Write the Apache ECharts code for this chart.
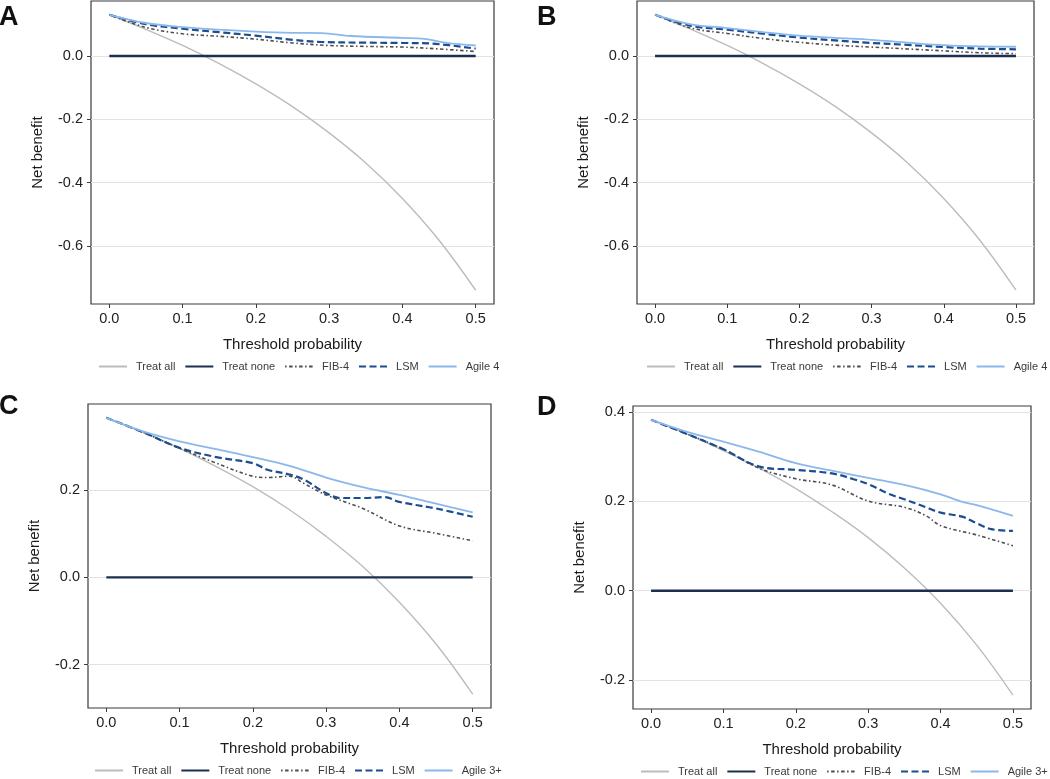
<!DOCTYPE html>
<html>
<head>
<meta charset="utf-8">
<script src="https://cdn.jsdelivr.net/npm/echarts@6/dist/echarts.min.js"></script>
<style>
html,body{margin:0;padding:0;background:#fff;}
#chart{width:1050px;height:779px;}
</style>
</head>
<body>
<div id="chart"></div>
<script>
// ---------- data ----------
const panelLetters = ['A', 'B', 'C', 'D'];
const legendNamesAB = ['Treat all', 'Treat none', 'FIB-4', 'LSM', 'Agile 4'];
const legendNamesCD = ['Treat all', 'Treat none', 'FIB-4', 'LSM', 'Agile 3+'];
const xTicks = [0, 0.1, 0.2, 0.3, 0.4, 0.5];
const yTicksAB = [-0.6, -0.4, -0.2, 0.0];
const yTicksC = [-0.2, 0.0, 0.2];
const yTicksD = [-0.2, 0.0, 0.2, 0.4];

const thr = [0, 0.05, 0.1, 0.15, 0.2, 0.25, 0.3, 0.35, 0.4, 0.45, 0.5];
const noneX = [0, 0.5];
const noneY = [0, 0];

// Panel A
const treatAllA = [0.130, 0.084, 0.033, -0.024, -0.088, -0.160, -0.243, -0.338, -0.450, -0.582, -0.740];
const fibAx = [0, 0.05, 0.1, 0.15, 0.2, 0.25, 0.3, 0.35, 0.4, 0.45, 0.5];
const fibA  = [0.130, 0.090, 0.070, 0.062, 0.053, 0.041, 0.033, 0.030, 0.028, 0.022, 0.014];
const lsmAx = [0, 0.05, 0.1, 0.15, 0.2, 0.25, 0.29, 0.35, 0.4, 0.44, 0.5];
const lsmA  = [0.130, 0.100, 0.086, 0.075, 0.064, 0.051, 0.044, 0.042, 0.041, 0.039, 0.023];
const agileAx = [0, 0.05, 0.1, 0.15, 0.2, 0.25, 0.29, 0.33, 0.4, 0.43, 0.46, 0.5];
const agileA  = [0.130, 0.104, 0.091, 0.083, 0.077, 0.073, 0.072, 0.063, 0.057, 0.054, 0.041, 0.033];

// Panel B
const treatAllB = [0.130, 0.084, 0.033, -0.024, -0.088, -0.160, -0.243, -0.338, -0.450, -0.582, -0.740];
const fibB   = [0.130, 0.088, 0.071, 0.055, 0.043, 0.034, 0.028, 0.022, 0.016, 0.010, 0.007];
const lsmB   = [0.130, 0.095, 0.083, 0.070, 0.058, 0.049, 0.041, 0.035, 0.028, 0.023, 0.021];
const agileB = [0.130, 0.100, 0.088, 0.075, 0.064, 0.057, 0.051, 0.042, 0.034, 0.030, 0.029];

// Panel C
const treatAllC = [0.366, 0.333, 0.296, 0.254, 0.208, 0.155, 0.094, 0.025, -0.057, -0.153, -0.268];
const fibCx = [0, 0.05, 0.1, 0.15, 0.2, 0.22, 0.25, 0.27, 0.3, 0.35, 0.4, 0.45, 0.5];
const fibC  = [0.366, 0.333, 0.296, 0.262, 0.232, 0.229, 0.232, 0.215, 0.189, 0.158, 0.118, 0.101, 0.084];
const lsmCx = [0, 0.05, 0.1, 0.15, 0.2, 0.22, 0.25, 0.27, 0.3, 0.32, 0.35, 0.38, 0.4, 0.45, 0.5];
const lsmC  = [0.366, 0.333, 0.297, 0.276, 0.262, 0.247, 0.236, 0.224, 0.193, 0.182, 0.182, 0.184, 0.173, 0.158, 0.139];
const agileC = [0.366, 0.335, 0.312, 0.294, 0.276, 0.256, 0.229, 0.207, 0.189, 0.169, 0.149];

// Panel D
const treatAllD = [0.383, 0.351, 0.314, 0.274, 0.229, 0.177, 0.119, 0.051, -0.028, -0.122, -0.234];
const fibDx = [0, 0.05, 0.1, 0.15, 0.2, 0.25, 0.3, 0.35, 0.38, 0.4, 0.45, 0.5];
const fibD  = [0.383, 0.351, 0.317, 0.274, 0.251, 0.237, 0.201, 0.187, 0.168, 0.146, 0.125, 0.101];
const lsmDx = [0, 0.05, 0.1, 0.15, 0.2, 0.25, 0.28, 0.3, 0.33, 0.35, 0.38, 0.4, 0.43, 0.45, 0.47, 0.5];
const lsmD  = [0.383, 0.351, 0.317, 0.278, 0.271, 0.263, 0.250, 0.239, 0.216, 0.205, 0.187, 0.175, 0.166, 0.151, 0.138, 0.134];
const agileDx = [0, 0.05, 0.1, 0.15, 0.2, 0.25, 0.3, 0.35, 0.4, 0.43, 0.45, 0.5];
const agileD  = [0.383, 0.356, 0.334, 0.311, 0.286, 0.269, 0.253, 0.237, 0.216, 0.199, 0.192, 0.168];

// ---------- layout / styles ----------
const FONT = '"Liberation Sans", Arial, Helvetica, sans-serif';
const grids = [
  {left: 91, top: 1, width: 403, height: 303},
  {left: 637, top: 1, width: 397, height: 303},
  {left: 88, top: 404, width: 403, height: 304},
  {left: 633, top: 406, width: 398, height: 303}
];
const yRanges = [[-0.7835, 0.1735], [-0.7835, 0.1735], [-0.2997, 0.3977], [-0.265, 0.414]];
const yTicksAll = [yTicksAB, yTicksAB, yTicksC, yTicksD];
const legendPos = [
  {left: 98, top: 361}, {left: 646, top: 361}, {left: 94, top: 765}, {left: 640, top: 766}
];
const titlePos = [
  {left: -1, top: 4}, {left: 537, top: 4}, {left: -1, top: 393}, {left: 537, top: 394}
];

const styles = {
  all:   {color: '#bcbcbc', width: 1.4, type: 'solid'},
  none:  {color: '#1d2f4e', width: 2.4, type: 'solid'},
  fib:   {color: '#4d4d4d', width: 1.6, type: [1.5, 2.5, 3.5, 2.5]},
  lsm:   {color: '#1c4d8f', width: 2.2, type: [7, 3.5]},
  agile: {color: '#8bb8ec', width: 1.8, type: 'solid'}
};

function pairs(xs, ys) { return xs.map((x, i) => [x, ys[i]]); }
function line(name, xs, ys, gi, st, smooth) {
  return {
    name: name, type: 'line', xAxisIndex: gi, yAxisIndex: gi,
    data: pairs(xs, ys), symbol: 'none', smooth: smooth,
    lineStyle: {color: st.color, width: st.width, type: st.type},
    itemStyle: {color: st.color},
    z: 3, silent: true
  };
}

const panels = [
  {all: [thr, treatAllA], fib: [fibAx, fibA], lsm: [lsmAx, lsmA], agile: [agileAx, agileA], names: legendNamesAB},
  {all: [thr, treatAllB], fib: [thr, fibB], lsm: [thr, lsmB], agile: [thr, agileB], names: legendNamesAB},
  {all: [thr, treatAllC], fib: [fibCx, fibC], lsm: [lsmCx, lsmC], agile: [thr, agileC], names: legendNamesCD},
  {all: [thr, treatAllD], fib: [fibDx, fibD], lsm: [lsmDx, lsmD], agile: [agileDx, agileD], names: legendNamesCD}
];

const option = {
  animation: false,
  backgroundColor: '#ffffff',
  textStyle: {fontFamily: FONT},
  title: [], grid: [], xAxis: [], yAxis: [], legend: [], series: []
};

panels.forEach((p, gi) => {
  option.title.push({
    text: panelLetters[gi], left: titlePos[gi].left, top: titlePos[gi].top, padding: 0,
    textStyle: {fontFamily: FONT, fontSize: 27, fontWeight: 'bold', color: '#111'}
  });
  option.grid.push(Object.assign({show: true, borderColor: '#3a3a3a', borderWidth: 1.2, containLabel: false}, grids[gi]));
  option.xAxis.push({
    type: 'value', gridIndex: gi, min: -0.025, max: 0.525, position: 'bottom',
    name: 'Threshold probability', nameLocation: 'middle', nameGap: 33,
    nameTextStyle: {fontFamily: FONT, fontSize: 15, color: '#1a1a1a'},
    axisLine: {show: false, onZero: false},
    axisTick: {show: true, length: 4, customValues: xTicks, lineStyle: {color: '#3a3a3a', width: 1}},
    axisLabel: {customValues: xTicks, margin: 7, fontFamily: FONT, fontSize: 14.5, color: '#222',
      formatter: v => v.toFixed(1)},
    splitLine: {show: false}
  });
  option.yAxis.push({
    type: 'value', gridIndex: gi, min: yRanges[gi][0], max: yRanges[gi][1], position: 'left',
    name: 'Net benefit', nameLocation: 'middle', nameGap: 46, nameRotate: 90,
    nameTextStyle: {fontFamily: FONT, fontSize: 15, color: '#1a1a1a'},
    axisLine: {show: false, onZero: false},
    axisTick: {show: true, length: 4, customValues: yTicksAll[gi], lineStyle: {color: '#3a3a3a', width: 1}},
    axisLabel: {customValues: yTicksAll[gi], margin: 8, fontFamily: FONT, fontSize: 14.5, color: '#222',
      formatter: v => v.toFixed(1)},
    splitLine: {show: false}
  });
  option.legend.push({
    data: p.names, left: legendPos[gi].left, top: legendPos[gi].top, padding: 0,
    width: 460, orient: 'horizontal',
    itemWidth: 28, itemHeight: 12, itemGap: 9, selectedMode: false,
    itemStyle: {opacity: 0},
    textStyle: {fontFamily: FONT, fontSize: 11, color: '#3a3a3a', padding: [0, 0, 0, 4]}
  });
  // horizontal major gridlines
  option.series.push({
    type: 'line', xAxisIndex: gi, yAxisIndex: gi, data: [], silent: true, z: 1, zlevel: 0,
    markLine: {
      silent: true, symbol: 'none', animation: false, z: 1,
      label: {show: false},
      lineStyle: {color: '#e2e2e2', width: 1.2, type: 'solid'},
      data: yTicksAll[gi].map(v => ({yAxis: v}))
    }
  });
  option.series.push(line(p.names[0], p.all[0], p.all[1], gi, styles.all, 0.4));
  option.series.push(line(p.names[1], noneX, noneY, gi, styles.none, false));
  option.series.push(line(p.names[2], p.fib[0], p.fib[1], gi, styles.fib, 0.35));
  option.series.push(line(p.names[3], p.lsm[0], p.lsm[1], gi, styles.lsm, 0.35));
  option.series.push(line(p.names[4], p.agile[0], p.agile[1], gi, styles.agile, 0.35));
});

const chart = echarts.init(document.getElementById('chart'), null, {renderer: 'canvas'});
chart.setOption(option);
</script>
</body>
</html>
